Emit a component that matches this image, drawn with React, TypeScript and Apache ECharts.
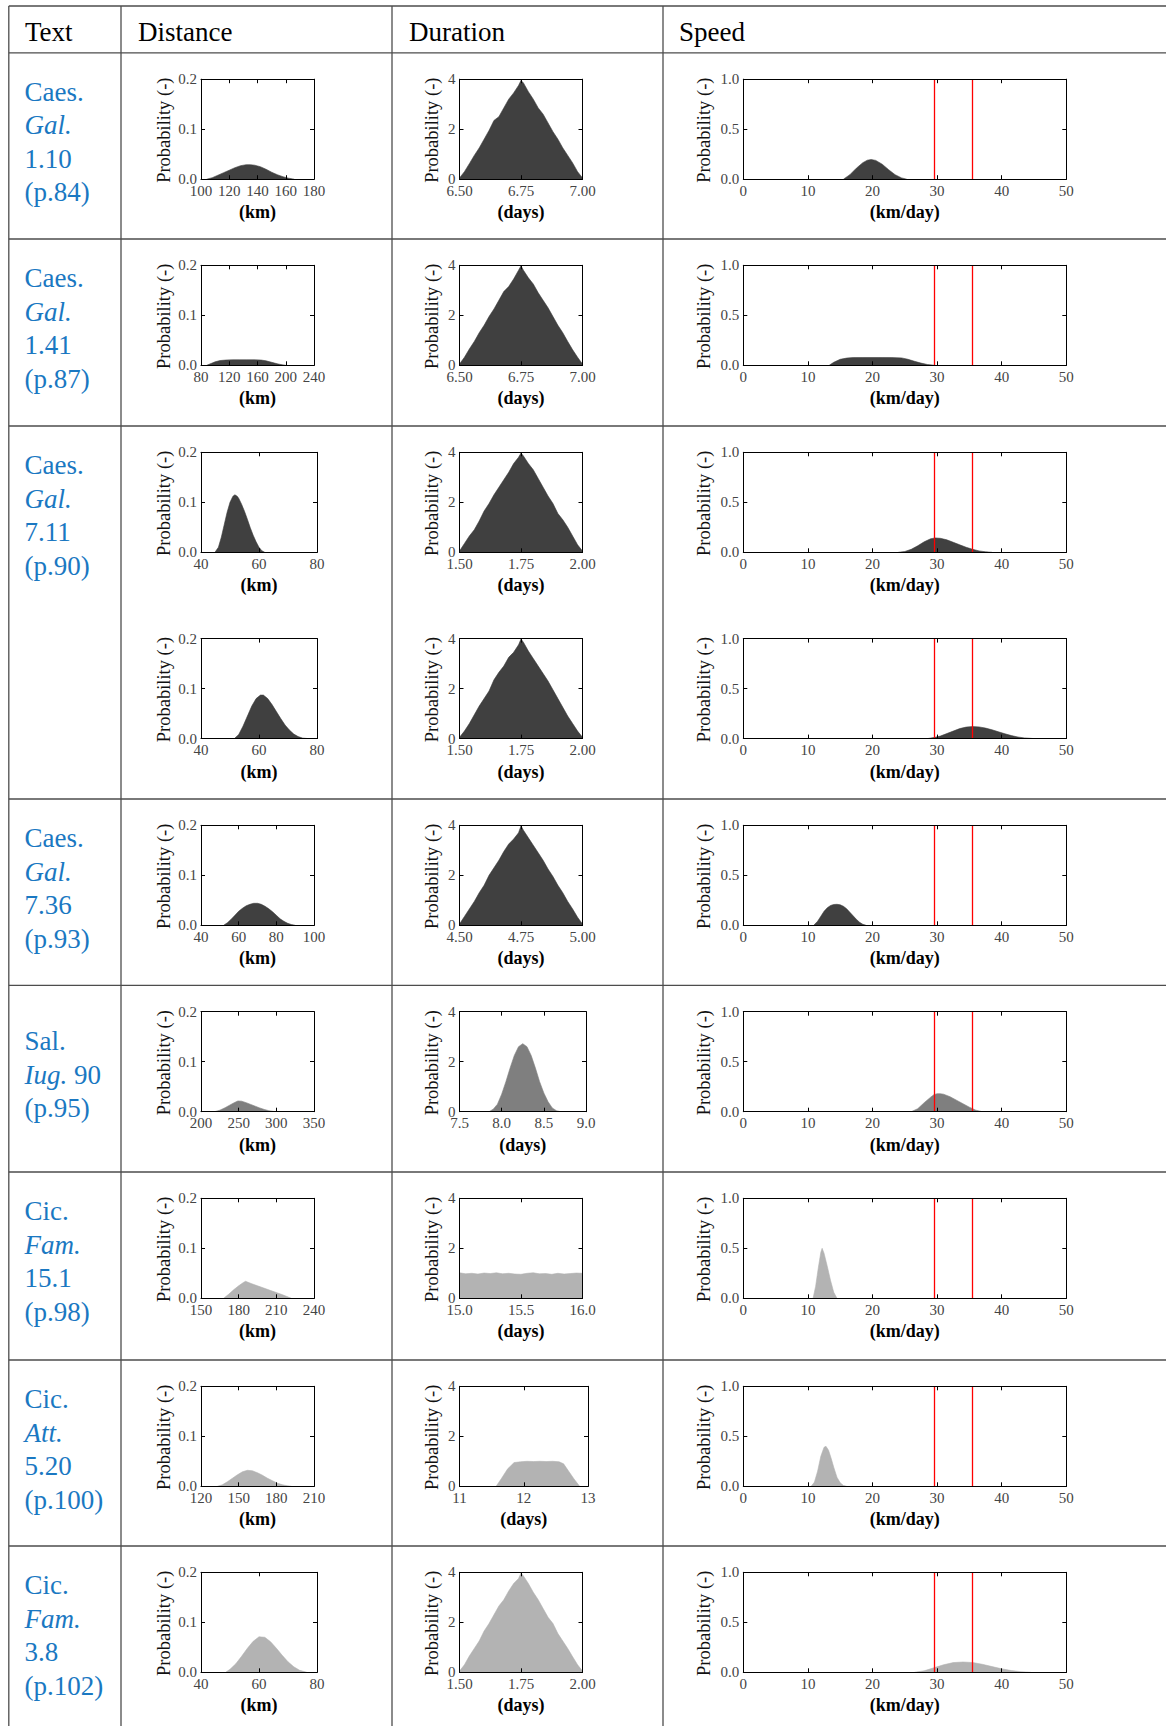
import React, { useEffect, useRef } from "react";
import * as echarts from "echarts";

// ---------------- DATA ----------------
const headers = ["Text", "Distance", "Duration", "Speed"];

const textLabels = [
  ["Caes.", "{i|Gal.}", "1.10", "(p.84)"],
  ["Caes.", "{i|Gal.}", "1.41", "(p.87)"],
  ["Caes.", "{i|Gal.}", "7.11", "(p.90)"],
  ["Caes.", "{i|Gal.}", "7.36", "(p.93)"],
  ["Sal.", "{i|Iug.} 90", "(p.95)"],
  ["Cic.", "{i|Fam.}", "15.1", "(p.98)"],
  ["Cic.", "{i|Att.}", "5.20", "(p.100)"],
  ["Cic.", "{i|Fam.}", "3.8", "(p.102)"],
];

const yName = "Probability (-)";
const xNames = ["(km)", "(days)", "(km/day)"];

// axis ranges per plot row (9 plot rows, 7.11 has two)
const distMin = [100, 80, 40, 40, 40, 200, 150, 120, 40];
const distMax = [180, 240, 80, 80, 100, 350, 240, 210, 80];
const distStep = [20, 40, 20, 20, 20, 50, 30, 30, 20];
const durMin = [6.5, 6.5, 1.5, 1.5, 4.5, 7.5, 15, 11, 1.5];
const durMax = [7, 7, 2, 2, 5, 9, 16, 13, 2];
const durStep = [0.25, 0.25, 0.25, 0.25, 0.25, 0.5, 0.5, 1, 0.25];
const durDecimals = [2, 2, 2, 2, 2, 1, 1, 0, 2];
const speedTicks = [0, 50, 10];
const distYTicks = [0, 0.2, 0.1];
const durYTicks = [0, 4, 2];
const speedYTicks = [0, 1, 0.5];
const speedRefLines = [29.6, 35.5];

// Caes. Gal. 1.10
const distG110X = [104, 108, 112, 116, 120, 124, 128, 132, 135, 138, 142, 146, 150, 154, 158, 162, 166];
const distG110Y = [0, 0.003, 0.008, 0.013, 0.018, 0.023, 0.027, 0.029, 0.029, 0.028, 0.025, 0.02, 0.014, 0.009, 0.005, 0.002, 0];
const durG110X = [6.5, 6.52, 6.54, 6.56, 6.58, 6.6, 6.62, 6.64, 6.66, 6.68, 6.7, 6.72, 6.74, 6.75, 6.76, 6.78, 6.8, 6.82, 6.84, 6.86, 6.88, 6.9, 6.92, 6.94, 6.96, 6.98, 7.0];
const durG110Y = [0.05, 0.3, 0.62, 0.95, 1.25, 1.6, 1.95, 2.35, 2.5, 2.85, 3.2, 3.45, 3.75, 3.95, 3.85, 3.5, 3.2, 2.85, 2.6, 2.25, 1.9, 1.6, 1.25, 0.95, 0.65, 0.3, 0.05];
const spdG110X = [15.5, 16.5, 17.5, 18.5, 19.2, 19.8, 20.5, 21.5, 22.5, 23.5, 24.5, 25.3];
const spdG110Y = [0, 0.045, 0.11, 0.165, 0.19, 0.197, 0.188, 0.15, 0.095, 0.045, 0.013, 0];

// Caes. Gal. 1.41
const distG141X = [88, 95, 100, 107, 115, 125, 135, 145, 155, 165, 172, 180, 188, 195, 200];
const distG141Y = [0, 0.004, 0.007, 0.0095, 0.0105, 0.011, 0.011, 0.011, 0.011, 0.0105, 0.009, 0.006, 0.003, 0.001, 0];
const durG141X = [6.5, 6.52, 6.54, 6.56, 6.58, 6.6, 6.62, 6.64, 6.66, 6.68, 6.7, 6.72, 6.74, 6.75, 6.76, 6.78, 6.8, 6.82, 6.84, 6.86, 6.88, 6.9, 6.92, 6.94, 6.96, 6.98, 7.0];
const durG141Y = [0.05, 0.32, 0.65, 0.95, 1.3, 1.6, 1.95, 2.25, 2.6, 2.95, 3.15, 3.45, 3.8, 3.98, 3.8, 3.5, 3.25, 2.9, 2.6, 2.3, 1.95, 1.6, 1.3, 0.95, 0.62, 0.32, 0.05];
const spdG141X = [13.3, 14, 15, 16, 17, 19, 21, 23, 24.5, 25.5, 26.5, 27.5, 28.5, 29.6];
const spdG141Y = [0, 0.03, 0.06, 0.072, 0.077, 0.078, 0.078, 0.077, 0.074, 0.06, 0.04, 0.022, 0.008, 0];

// Caes. Gal. 7.11 (first)
const distG711aX = [44.8, 46, 47, 48, 49, 50, 51, 51.7, 52.5, 53, 54, 55, 56, 57, 58, 59, 60, 61, 62];
const distG711aY = [0, 0.01, 0.03, 0.055, 0.08, 0.1, 0.112, 0.115, 0.112, 0.108, 0.096, 0.082, 0.066, 0.049, 0.034, 0.021, 0.01, 0.003, 0];
const durG711aX = [1.5, 1.52, 1.54, 1.56, 1.58, 1.6, 1.62, 1.64, 1.66, 1.68, 1.7, 1.72, 1.74, 1.75, 1.76, 1.78, 1.8, 1.82, 1.84, 1.86, 1.88, 1.9, 1.92, 1.94, 1.96, 1.98, 2.0];
const durG711aY = [0.05, 0.35, 0.65, 0.9, 1.25, 1.65, 1.95, 2.3, 2.6, 2.9, 3.2, 3.55, 3.8, 3.97, 3.85, 3.55, 3.3, 2.95, 2.6, 2.25, 1.95, 1.55, 1.3, 1.0, 0.65, 0.3, 0.05];
const spdG711aX = [24, 25, 26, 27, 28, 29, 29.7, 30.5, 31.5, 32.5, 33.5, 34.5, 35.5, 36.5, 37.5, 38.5];
const spdG711aY = [0, 0.008, 0.03, 0.065, 0.105, 0.135, 0.144, 0.14, 0.125, 0.1, 0.075, 0.05, 0.03, 0.014, 0.005, 0];

// Caes. Gal. 7.11 (second)
const distG711bX = [51.5, 53, 54.5, 56, 57.5, 59, 60.5, 61.5, 63, 64.5, 66, 67.5, 69, 70.5, 72, 73.5, 75, 77];
const distG711bY = [0, 0.008, 0.025, 0.045, 0.065, 0.08, 0.087, 0.087, 0.08, 0.068, 0.054, 0.04, 0.027, 0.017, 0.009, 0.004, 0.001, 0];
const durG711bX = [1.5, 1.52, 1.54, 1.56, 1.58, 1.6, 1.62, 1.64, 1.66, 1.68, 1.7, 1.72, 1.74, 1.75, 1.76, 1.78, 1.8, 1.82, 1.84, 1.86, 1.88, 1.9, 1.92, 1.94, 1.96, 1.98, 2.0];
const durG711bY = [0.05, 0.3, 0.6, 0.95, 1.3, 1.6, 1.9, 2.35, 2.65, 2.9, 3.25, 3.45, 3.75, 3.98, 3.85, 3.5, 3.2, 2.9, 2.6, 2.3, 1.95, 1.6, 1.25, 0.9, 0.6, 0.3, 0.05];
const spdG711bX = [28.5, 29.5, 30.5, 31.5, 32.5, 33.5, 34.5, 35.5, 36.5, 37.5, 38.5, 39.5, 40.5, 41.5, 42.5, 43.5, 45];
const spdG711bY = [0, 0.01, 0.025, 0.05, 0.075, 0.1, 0.115, 0.12, 0.117, 0.105, 0.088, 0.068, 0.048, 0.03, 0.016, 0.007, 0];

// Caes. Gal. 7.36
const distG736X = [52, 54, 56, 58, 60, 62, 64, 66, 68, 70, 72, 74, 76, 78, 80, 82, 84, 86, 88, 90];
const distG736Y = [0, 0.005, 0.012, 0.02, 0.028, 0.034, 0.039, 0.042, 0.044, 0.044, 0.042, 0.038, 0.033, 0.027, 0.02, 0.013, 0.008, 0.004, 0.0015, 0];
const durG736X = [4.5, 4.52, 4.54, 4.56, 4.58, 4.6, 4.62, 4.64, 4.66, 4.68, 4.7, 4.72, 4.74, 4.75, 4.76, 4.78, 4.8, 4.82, 4.84, 4.86, 4.88, 4.9, 4.92, 4.94, 4.96, 4.98, 5.0];
const durG736Y = [0.05, 0.35, 0.65, 0.95, 1.3, 1.6, 2.0, 2.3, 2.6, 2.95, 3.25, 3.45, 3.7, 3.98, 3.8, 3.5, 3.2, 2.9, 2.6, 2.25, 1.95, 1.6, 1.3, 0.95, 0.65, 0.32, 0.05];
const spdG736X = [10.9, 11.5, 12, 12.5, 13, 13.5, 14, 14.5, 15, 15.5, 16, 16.5, 17, 17.5, 18, 18.5, 19];
const spdG736Y = [0, 0.04, 0.09, 0.14, 0.175, 0.198, 0.208, 0.21, 0.205, 0.19, 0.165, 0.13, 0.095, 0.06, 0.03, 0.01, 0];

// Sal. Iug. 90
const distI90X = [218, 225, 232, 238, 244, 249, 254, 260, 266, 272, 278, 284, 290, 296, 302];
const distI90Y = [0, 0.003, 0.008, 0.013, 0.018, 0.0215, 0.021, 0.018, 0.0145, 0.011, 0.0075, 0.0045, 0.002, 0.0006, 0];
const durI90X = [7.85, 7.9, 7.95, 8.0, 8.05, 8.1, 8.15, 8.2, 8.25, 8.3, 8.35, 8.4, 8.45, 8.5, 8.55, 8.6, 8.65, 8.7];
const durI90Y = [0, 0.1, 0.3, 0.7, 1.2, 1.75, 2.25, 2.6, 2.72, 2.6, 2.25, 1.75, 1.2, 0.75, 0.4, 0.15, 0.04, 0];
const spdI90X = [26, 27, 28, 29, 29.5, 30, 30.5, 31, 32, 33, 34, 35, 36, 37];
const spdI90Y = [0, 0.03, 0.09, 0.145, 0.17, 0.18, 0.18, 0.175, 0.15, 0.115, 0.08, 0.045, 0.015, 0];

// Cic. Fam. 15.1
const distF151X = [168, 172, 176, 180, 184, 185.5, 190, 195, 200, 205, 210, 215, 220, 222];
const distF151Y = [0, 0.008, 0.017, 0.025, 0.032, 0.034, 0.0295, 0.025, 0.0205, 0.016, 0.0115, 0.007, 0.002, 0];
const durF151X = [15.0, 15.05, 15.1, 15.15, 15.2, 15.25, 15.3, 15.35, 15.4, 15.45, 15.5, 15.55, 15.6, 15.65, 15.7, 15.75, 15.8, 15.85, 15.9, 15.95, 16.0];
const durF151Y = [1.02, 0.98, 1.0, 0.97, 1.01, 0.99, 1.02, 0.98, 1.0, 0.97, 0.96, 1.0, 1.02, 0.98, 0.99, 0.96, 1.0, 0.97, 0.99, 1.01, 1.0];
const spdF151X = [10.8, 11.2, 11.6, 12.0, 12.2, 12.5, 13.0, 13.5, 14.0, 14.5];
const spdF151Y = [0, 0.12, 0.3, 0.46, 0.5, 0.45, 0.32, 0.18, 0.06, 0];

// Cic. Att. 5.20
const distA520X = [133, 137, 141, 145, 149, 153, 157, 161, 165, 169, 173, 177, 181, 185, 189, 192];
const distA520Y = [0, 0.003, 0.009, 0.016, 0.023, 0.029, 0.032, 0.031, 0.027, 0.022, 0.016, 0.011, 0.006, 0.003, 0.001, 0];
const durA520X = [11.57, 11.65, 11.75, 11.85, 11.95, 12.05, 12.15, 12.25, 12.35, 12.45, 12.55, 12.62, 12.7, 12.78, 12.87];
const durA520Y = [0, 0.3, 0.7, 0.95, 0.98, 1.0, 0.99, 1.0, 0.99, 1.0, 0.98, 0.9, 0.6, 0.3, 0];
const spdA520X = [10.5, 11, 11.5, 12, 12.5, 12.8, 13.2, 13.6, 14, 14.5, 15, 15.5, 16];
const spdA520Y = [0, 0.04, 0.15, 0.3, 0.39, 0.4, 0.36, 0.28, 0.19, 0.09, 0.035, 0.008, 0];

// Cic. Fam. 3.8
const distF38X = [48.5, 50, 52, 54, 56, 58, 60, 62, 64, 66, 68, 70, 72, 74, 76.5];
const distF38Y = [0, 0.006, 0.017, 0.032, 0.048, 0.062, 0.071, 0.07, 0.061, 0.048, 0.034, 0.021, 0.011, 0.004, 0];
const durF38X = [1.5, 1.52, 1.54, 1.56, 1.58, 1.6, 1.62, 1.64, 1.66, 1.68, 1.7, 1.72, 1.74, 1.75, 1.76, 1.78, 1.8, 1.82, 1.84, 1.86, 1.88, 1.9, 1.92, 1.94, 1.96, 1.98, 2.0];
const durF38Y = [0.05, 0.3, 0.65, 0.95, 1.25, 1.65, 1.95, 2.3, 2.65, 2.9, 3.25, 3.55, 3.75, 3.97, 3.85, 3.55, 3.2, 2.9, 2.55, 2.2, 1.95, 1.55, 1.25, 0.95, 0.62, 0.3, 0.05];
const spdF38X = [26.5, 28, 29.5, 31, 32.5, 34, 35.5, 37, 38.5, 40, 41.5, 43, 44.5];
const spdF38Y = [0, 0.015, 0.045, 0.075, 0.097, 0.103, 0.098, 0.08, 0.057, 0.035, 0.017, 0.006, 0];

const distData = [
  [distG110X, distG110Y], [distG141X, distG141Y], [distG711aX, distG711aY], [distG711bX, distG711bY],
  [distG736X, distG736Y], [distI90X, distI90Y], [distF151X, distF151Y], [distA520X, distA520Y], [distF38X, distF38Y],
];
const durData = [
  [durG110X, durG110Y], [durG141X, durG141Y], [durG711aX, durG711aY], [durG711bX, durG711bY],
  [durG736X, durG736Y], [durI90X, durI90Y], [durF151X, durF151Y], [durA520X, durA520Y], [durF38X, durF38Y],
];
const spdData = [
  [spdG110X, spdG110Y], [spdG141X, spdG141Y], [spdG711aX, spdG711aY], [spdG711bX, spdG711bY],
  [spdG736X, spdG736Y], [spdI90X, spdI90Y], [spdF151X, spdF151Y], [spdA520X, spdA520Y], [spdF38X, spdF38Y],
];

// ---------------- LAYOUT / STYLE ----------------
const PAGE_W = 1166;
const PAGE_H = 1726;
const FONT = "'Liberation Serif', 'Times New Roman', serif";
const BLUE = "#1a78c2";
const LINE_COLOR = "#4d4d4d";
const TICK_COLOR = "#444";
const fillColors = ["#404040", "#404040", "#404040", "#404040", "#404040", "#7f7f7f", "#b3b3b3", "#b3b3b3", "#b3b3b3"];
const colX = [8.8, 121, 392, 663];
const rowLinesY = [6, 52.9, 239, 426, 799, 985.4, 1172, 1360, 1546];
const tableRowTop = [52.9, 239, 426, 799, 985.4, 1172, 1360, 1546];
const plotRowTop = [52.9, 239, 426, 612.3, 799, 985.4, 1172, 1360, 1546];
const headerX = [25, 138, 409, 679];
const distRight = [314, 314, 317, 317, 314, 314, 314, 314, 317];
const durRight = [582.5, 582.5, 582.5, 582.5, 582.5, 586, 582.5, 588, 582.5];
const PLOT_H = 100;

function buildOption() {
  const grids: any[] = [];
  const xAxes: any[] = [];
  const yAxes: any[] = [];
  const series: any[] = [];
  const graphic: any[] = [];

  const axisLine = { show: true, onZero: false, lineStyle: { color: "#000", width: 1 } };
  const axisTick = { show: true, inside: true, length: 4, lineStyle: { color: "#000", width: 1 } };

  function addPlot(
    left: number, top: number, width: number,
    xr: number[], xdec: number, xname: string,
    yr: number[], ydec: number, yNameOffset: number,
    data: number[][], color: string, refLines: boolean
  ) {
    const gi = grids.length;
    grids.push({ left, top, width, height: PLOT_H, show: false });
    const xBase = {
      gridIndex: gi, type: "value", min: xr[0], max: xr[1], interval: xr[2], z: 5,
      splitLine: { show: false }, axisLine, axisTick,
    };
    xAxes.push({
      ...xBase, position: "bottom",
      axisLabel: { margin: 4, fontFamily: FONT, fontSize: 15, color: TICK_COLOR, formatter: (v: number) => v.toFixed(xdec) },
      name: xname, nameLocation: "middle", nameGap: 24, nameMoveOverlap: false,
      nameTextStyle: { fontFamily: FONT, fontSize: 18, fontWeight: "bold", color: "#000" },
    });
    xAxes.push({ ...xBase, position: "top", axisLabel: { show: false } });
    const yBase = {
      gridIndex: gi, type: "value", min: yr[0], max: yr[1], interval: yr[2], z: 5,
      splitLine: { show: false }, axisLine, axisTick,
    };
    yAxes.push({
      ...yBase, position: "left",
      axisLabel: { margin: 4, fontFamily: FONT, fontSize: 15, color: TICK_COLOR, formatter: (v: number) => v.toFixed(ydec) },
    });
    yAxes.push({ ...yBase, position: "right", axisLabel: { show: false } });

    // rotated y-axis title
    graphic.push({
      type: "text", silent: true, x: left - yNameOffset, y: top + PLOT_H / 2 + 1, rotation: Math.PI / 2,
      style: { text: yName, fontFamily: FONT, fontSize: 18.5, fill: "#111", align: "center", verticalAlign: "middle" },
    });

    const [xs, ys] = data;
    series.push({
      type: "line",
      xAxisIndex: 2 * gi,
      yAxisIndex: 2 * gi,
      data: xs.map((v, i) => [v, ys[i]]),
      symbol: "none",
      showSymbol: false,
      silent: true,
      z: 2,
      emphasis: { disabled: true },
      lineStyle: { width: 0.6, color },
      areaStyle: { color, opacity: 1 },
      markLine: refLines
        ? {
            silent: true,
            symbol: ["none", "none"],
            label: { show: false },
            emphasis: { disabled: true },
            lineStyle: { color: "#ff0000", width: 1.3, type: "solid" },
            data: speedRefLines.map((v) => ({ xAxis: v })),
          }
        : undefined,
    });
  }

  for (let p = 0; p < 9; p++) {
    const top = plotRowTop[p] + 26.3;
    addPlot(201, top, distRight[p] - 201, [distMin[p], distMax[p], distStep[p]], 0, xNames[0],
      distYTicks, 1, 37, distData[p], fillColors[p], false);
    addPlot(459.5, top, durRight[p] - 459.5, [durMin[p], durMax[p], durStep[p]], durDecimals[p], xNames[1],
      durYTicks, 0, 27.5, durData[p], fillColors[p], false);
    addPlot(743.3, top, 323, speedTicks, 0, xNames[2],
      speedYTicks, 1, 39, spdData[p], fillColors[p], true);
  }

  rowLinesY.forEach((y) =>
    graphic.push({ type: "line", silent: true, shape: { x1: colX[0], y1: y, x2: PAGE_W, y2: y }, style: { stroke: LINE_COLOR, lineWidth: 1.3 } })
  );
  colX.forEach((x) =>
    graphic.push({ type: "line", silent: true, shape: { x1: x, y1: rowLinesY[0], x2: x, y2: PAGE_H }, style: { stroke: LINE_COLOR, lineWidth: 1.3 } })
  );
  headers.forEach((h, i) =>
    graphic.push({
      type: "text", silent: true, x: headerX[i], y: 32,
      style: { text: h, fontFamily: FONT, fontSize: 27, fill: "#000", align: "left", verticalAlign: "middle" },
    })
  );
  textLabels.forEach((lines, r) => {
    const c = tableRowTop[r] + 89.3;
    lines.forEach((ln, k) =>
      graphic.push({
        type: "text", silent: true, x: 24.5, y: c + (k - (lines.length - 1) / 2) * 33.5,
        style: {
          text: ln, fontFamily: FONT, fontSize: 27, fill: BLUE, align: "left", verticalAlign: "middle",
          rich: { i: { fontFamily: FONT, fontSize: 27, fill: BLUE, fontStyle: "italic" } },
        },
      })
    );
  });

  return {
    animation: false,
    backgroundColor: "#fff",
    grid: grids,
    xAxis: xAxes,
    yAxis: yAxes,
    series,
    graphic,
  };
}

export default function App() {
  const ref = useRef<HTMLDivElement>(null);
  useEffect(() => {
    const chart = echarts.init(ref.current as HTMLDivElement, null, { renderer: "svg", width: PAGE_W, height: PAGE_H });
    chart.setOption(buildOption() as any);
    return () => chart.dispose();
  }, []);
  return (
    <div
      ref={ref}
      style={{ position: "absolute", left: 0, top: 0, width: PAGE_W, height: PAGE_H, background: "#fff" }}
    />
  );
}
